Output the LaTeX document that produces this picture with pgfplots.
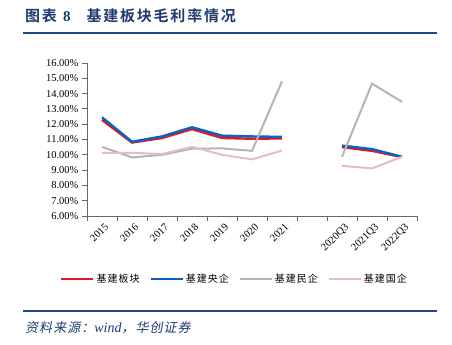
\documentclass[border=0pt]{standalone}
\usepackage{pgfplots}
\pgfplotsset{compat=1.18}
\usepackage{fontspec}
\setmainfont{Liberation Serif}
\newfontfamily\cjk{Noto Sans CJK SC}
\newfontfamily\cjkl[LetterSpace=10]{Noto Sans CJK SC}
\newfontfamily\cjkb[LetterSpace=12]{Noto Sans CJK SC Bold}
\newfontfamily\cjki[FakeSlant=0.2,LetterSpace=8]{Noto Sans CJK SC}
\definecolor{cred}{HTML}{E8141E}
\definecolor{cblue}{HTML}{0A62C2}
\definecolor{cgray}{HTML}{B4B4B4}
\definecolor{cpink}{HTML}{E8BCBC}
\definecolor{navy}{HTML}{1F3A6E}
\definecolor{navyline}{HTML}{1F4A82}
\begin{document}
\begin{tikzpicture}
\path[use as bounding box] (0,0) rectangle (452pt,345pt);
% title
\node[anchor=west, text=navy, inner sep=0] at (25pt,329pt) {\cjkb\fontsize{15}{17}\selectfont 图表\hspace{6pt}{\rmfamily\bfseries 8}\hspace{16pt}基建板块毛利率情况};
\draw[navyline, line width=1.4pt] (23pt,312pt) -- (437pt,312pt);
\draw[navyline, line width=1.4pt] (23pt,34pt) -- (437pt,34pt);
\node[anchor=west, text=navy, inner sep=0] at (25pt,17pt) {\cjki\fontsize{13}{15}\selectfont 资料来源：{\rmfamily\itshape\fontsize{14}{15}\selectfont wind}，华创证券};
\begin{axis}[
  at={(87pt,129pt)}, anchor=south west, scale only axis,
  width=330pt, height=153pt,
  xmin=-0.5, xmax=10.5, ymin=6, ymax=16,
  clip=false,
  axis x line*=bottom, axis y line*=left,
  axis line style={black!60, line width=0.8pt},
  tick style={black!60, line width=0.8pt},
  tick align=outside, major tick length=5pt,
  ytick={6,7,8,9,10,11,12,13,14,15,16},
  yticklabel={\pgfmathprintnumber[fixed,fixed zerofill,precision=2]{\tick}\%},
  /pgf/number format/assume math mode=true,
  ticklabel style={font=\fontsize{10.5}{12}\selectfont},
  xtick={-0.5,0.5,1.5,2.5,3.5,4.5,5.5,6.5,7.5,8.5,9.5,10.5},
  xticklabels={},
  extra x ticks={0,1,2,3,4,5,6,7,8,9,10},
  extra x tick labels={2015,2016,2017,2018,2019,2020,2021,,2020Q3,2021Q3,2022Q3},
  extra x tick style={major tick length=0pt, xticklabel style={rotate=45, anchor=north east, xshift=-2pt, yshift=-5pt, inner sep=1pt}},
  unbounded coords=jump,
  legend columns=4,
  legend style={at={(0.447,-0.41)}, anchor=center, draw=none, fill=none,
    font=\cjkl\fontsize{10}{11}\selectfont,
    /tikz/every even column/.append style={column sep=8pt}},
  legend image code/.code={\draw[#1] (0pt,0pt) -- (32pt,0pt);},
]
\addplot[cred, line width=2.4pt] coordinates {(0,12.28) (1,10.8) (2,11.1) (3,11.68) (4,11.1) (5,11.05) (6,11.07) (7,nan) (8,10.5) (9,10.26) (10,9.85)};
\addlegendentry{基建板块}
\addplot[cblue, line width=2.4pt] coordinates {(0,12.45) (1,10.85) (2,11.2) (3,11.8) (4,11.25) (5,11.2) (6,11.17) (7,nan) (8,10.6) (9,10.37) (10,9.87)};
\addlegendentry{基建央企}
\addplot[cgray, line width=2pt] coordinates {(0,10.52) (1,9.83) (2,10.0) (3,10.4) (4,10.42) (5,10.26) (6,14.8) (7,nan) (8,9.87) (9,14.65) (10,13.46)};
\addlegendentry{基建民企}
\addplot[cpink, line width=2pt] coordinates {(0,10.13) (1,10.13) (2,10.05) (3,10.52) (4,10.0) (5,9.7) (6,10.28) (7,nan) (8,9.28) (9,9.11) (10,9.87)};
\addlegendentry{基建国企}
\end{axis}
\end{tikzpicture}
\end{document}
